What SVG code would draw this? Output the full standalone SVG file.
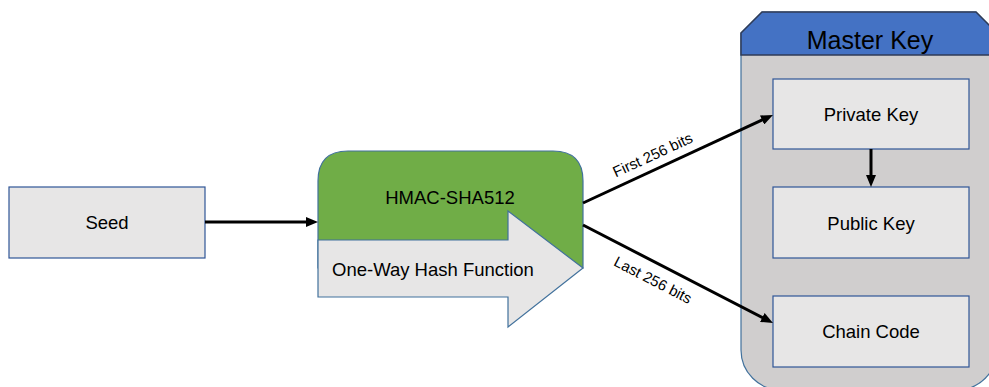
<svg xmlns="http://www.w3.org/2000/svg" width="989" height="387" viewBox="0 0 989 387">
  <style>
    .box { fill: #e7e6e6; stroke: #2f5597; stroke-width: 1.2; }
    .lbl { font-family: "Liberation Sans", Arial, sans-serif; font-size: 18.5px; fill: #000; text-anchor: middle; }
    .edge { stroke: #000; stroke-width: 3; fill: none; }
    .elbl { font-family: "Liberation Sans", Arial, sans-serif; font-size: 15px; fill: #000; text-anchor: middle; }
  </style>
  <defs>
    <marker id="arr" viewBox="0 0 12 10" markerUnits="userSpaceOnUse" markerWidth="12" markerHeight="10" refX="2" refY="5" orient="auto">
      <path d="M0,0 L12,5 L0,10 z" fill="#000"/>
    </marker>
  </defs>
  <rect width="989" height="387" fill="#ffffff"/>

  <g id="master-key">
    <path d="M741,33 L762,12 L976,12 L997,33 L997,350 A40,40 0 0 1 957,390 L781,390 A40,40 0 0 1 741,350 Z" fill="#d0cece" stroke="#41719c" stroke-width="1.2"/>
    <path d="M741,55 L741,33 L762,12 L976,12 L997,33 L997,55 Z" fill="#4472c4" stroke="#2f3b57" stroke-width="1.5"/>
    <text x="870" y="49" class="lbl" style="font-size:25px">Master Key</text>
  </g>

  <g id="seed">
    <rect class="box" x="9" y="187" width="196" height="71"/>
    <text x="107" y="229" class="lbl">Seed</text>
  </g>

  <g id="hmac">
    <path d="M318,268 L318,181 Q318,151 348,151 L553,151 Q583,151 583,181 L583,268 Z" fill="#70ad47" stroke="#41719c" stroke-width="1.2"/>
    <text x="450" y="204" class="lbl">HMAC-SHA512</text>
  </g>

  <g id="hash-function">
    <polygon points="318,240 508,240 508,211 583,268 508,327 508,297 318,297" fill="#e7e6e6" stroke="#41719c" stroke-width="1.2"/>
    <text x="332" y="276" class="lbl" style="text-anchor:start">One-Way Hash Function</text>
  </g>

  <g id="private-key">
    <rect class="box" x="773" y="79" width="196" height="70"/>
    <text x="871" y="121" class="lbl">Private Key</text>
  </g>

  <g id="public-key">
    <rect class="box" x="773" y="187" width="196" height="71"/>
    <text x="871" y="230" class="lbl">Public Key</text>
  </g>

  <g id="chain-code">
    <rect class="box" x="773" y="296" width="196" height="71"/>
    <text x="871" y="338" class="lbl">Chain Code</text>
  </g>

  <g id="connectors">
    <line class="edge" x1="583" y1="203" x2="763.9" y2="119.2" marker-end="url(#arr)"/>
    <line class="edge" x1="583" y1="225" x2="764.1" y2="318.4" marker-end="url(#arr)"/>
    <line class="edge" x1="205" y1="222" x2="308" y2="222" marker-end="url(#arr)"/>
    <line class="edge" x1="871" y1="149" x2="871" y2="177" marker-end="url(#arr)"/>
    <text class="elbl" transform="translate(654.8,159.6) rotate(-24.8)">First 256 bits</text>
    <text class="elbl" transform="translate(650.6,284.6) rotate(27.3)">Last 256 bits</text>
  </g>
</svg>
